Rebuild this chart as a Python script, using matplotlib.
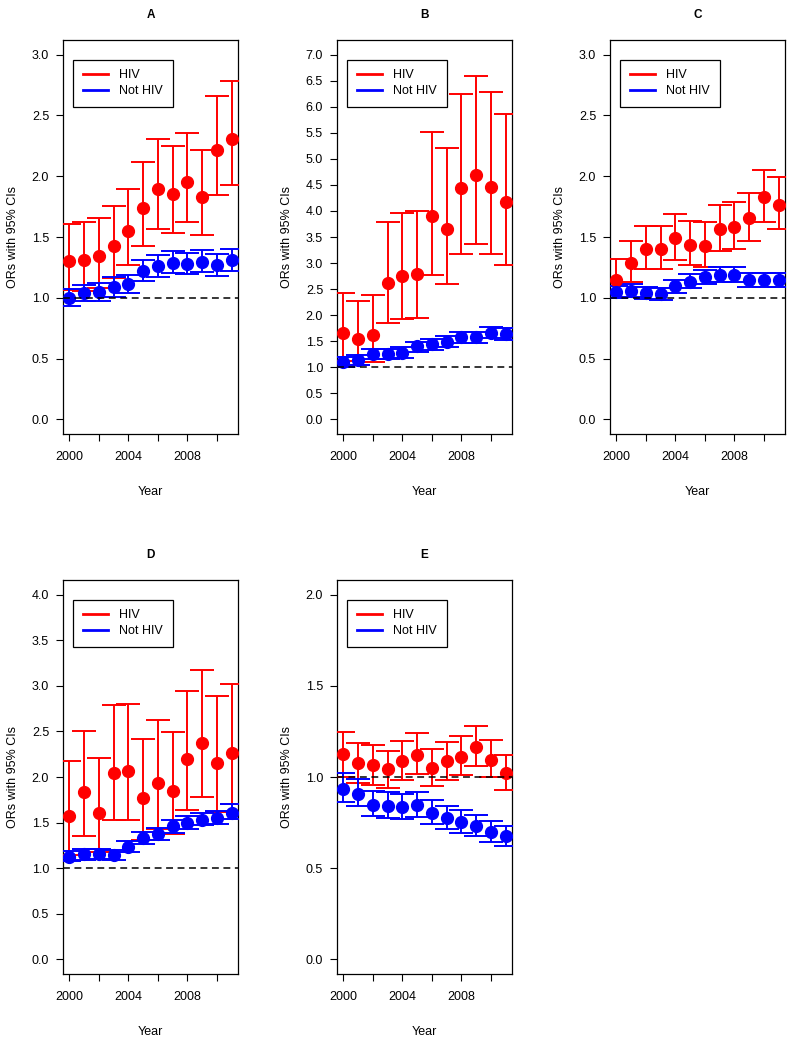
"""
plot.py - odds ratios with 95% CIs by year, HIV vs not HIV, five panels.
"""
import numpy as np
import matplotlib
matplotlib.use("Agg")
import matplotlib.pyplot as plt

plt.rcParams["font.family"] = ["Liberation Sans", "DejaVu Sans"]

years = np.arange(2000, 2012)
panel_names = ["A", "B", "C", "D", "E"]
panel_ytop = [3.0, 7.0, 3.0, 4.0, 2.0]

# ---- panel A ----
a_hiv = [1.30, 1.31, 1.345, 1.43, 1.553, 1.735, 1.897, 1.853, 1.952, 1.828, 2.212, 2.308]
a_hiv_lo = [1.065, 1.06, 1.08, 1.16, 1.27, 1.427, 1.567, 1.532, 1.62, 1.518, 1.842, 1.924]
a_hiv_hi = [1.61, 1.62, 1.655, 1.757, 1.894, 2.114, 2.308, 2.245, 2.355, 2.212, 2.663, 2.781]
a_not = [1.00, 1.037, 1.049, 1.087, 1.112, 1.224, 1.263, 1.285, 1.279, 1.293, 1.271, 1.312]
a_not_lo = [0.933, 0.977, 0.977, 1.01, 1.038, 1.139, 1.175, 1.202, 1.197, 1.211, 1.183, 1.224]
a_not_hi = [1.07, 1.106, 1.12, 1.169, 1.189, 1.307, 1.348, 1.381, 1.367, 1.389, 1.362, 1.405]

# ---- panel B ----
b_hiv = [1.653, 1.537, 1.62, 2.614, 2.755, 2.787, 3.895, 3.658, 4.44, 4.69, 4.452, 4.17]
b_hiv_lo = [1.12, 1.05, 1.10, 1.845, 1.935, 1.954, 2.774, 2.601, 3.177, 3.357, 3.177, 2.966]
b_hiv_hi = [2.42, 2.274, 2.383, 3.786, 3.959, 3.991, 5.516, 5.202, 6.25, 6.586, 6.278, 5.862]
b_not = [1.095, 1.14, 1.256, 1.256, 1.28, 1.40, 1.44, 1.486, 1.576, 1.576, 1.666, 1.634]
b_not_lo = [1.01, 1.045, 1.15, 1.15, 1.17, 1.30, 1.33, 1.38, 1.47, 1.47, 1.557, 1.525]
b_not_hi = [1.20, 1.24, 1.36, 1.35, 1.38, 1.49, 1.55, 1.60, 1.68, 1.68, 1.78, 1.75]

# ---- panel C ----
c_hiv = [1.147, 1.29, 1.403, 1.403, 1.49, 1.436, 1.427, 1.565, 1.581, 1.655, 1.825, 1.765]
c_hiv_lo = [1.00, 1.128, 1.238, 1.235, 1.312, 1.268, 1.257, 1.383, 1.40, 1.469, 1.622, 1.567]
c_hiv_hi = [1.318, 1.469, 1.592, 1.587, 1.691, 1.628, 1.62, 1.765, 1.784, 1.861, 2.053, 1.99]
c_not = [1.046, 1.06, 1.043, 1.032, 1.093, 1.134, 1.167, 1.189, 1.189, 1.147, 1.147, 1.147]
c_not_lo = [0.996, 1.005, 0.994, 0.983, 1.038, 1.079, 1.112, 1.131, 1.131, 1.092, 1.092, 1.092]
c_not_hi = [1.10, 1.114, 1.092, 1.084, 1.147, 1.194, 1.23, 1.252, 1.252, 1.208, 1.208, 1.208]

# ---- panel D ----
d_hiv = [1.573, 1.836, 1.61, 2.044, 2.066, 1.774, 1.938, 1.843, 2.193, 2.376, 2.15, 2.263]
d_hiv_lo = [1.15, 1.35, 1.179, 1.526, 1.533, 1.307, 1.434, 1.38, 1.642, 1.781, 1.617, 1.708]
d_hiv_hi = [2.175, 2.507, 2.212, 2.785, 2.796, 2.412, 2.62, 2.496, 2.938, 3.168, 2.883, 3.022]
d_not = [1.124, 1.153, 1.161, 1.142, 1.234, 1.332, 1.372, 1.46, 1.496, 1.529, 1.551, 1.61]
d_not_lo = [1.08, 1.088, 1.099, 1.088, 1.179, 1.27, 1.307, 1.387, 1.434, 1.471, 1.482, 1.544]
d_not_hi = [1.186, 1.215, 1.215, 1.197, 1.299, 1.398, 1.442, 1.533, 1.569, 1.606, 1.624, 1.70]

# ---- panel E ----
e_hiv = [1.128, 1.077, 1.064, 1.042, 1.088, 1.119, 1.049, 1.086, 1.109, 1.164, 1.091, 1.022]
e_hiv_lo = [1.0, 0.969, 0.954, 0.94, 0.985, 1.018, 0.951, 0.985, 1.013, 1.062, 1.0, 0.931]
e_hiv_hi = [1.248, 1.188, 1.175, 1.142, 1.199, 1.241, 1.155, 1.192, 1.223, 1.279, 1.204, 1.12]
e_not = [0.934, 0.907, 0.849, 0.843, 0.836, 0.845, 0.803, 0.776, 0.754, 0.732, 0.699, 0.675]
e_not_lo = [0.863, 0.839, 0.785, 0.777, 0.772, 0.781, 0.741, 0.714, 0.693, 0.675, 0.641, 0.62]
e_not_hi = [1.022, 0.991, 0.923, 0.918, 0.909, 0.918, 0.872, 0.839, 0.818, 0.794, 0.757, 0.732]

hiv_sets = [(a_hiv, a_hiv_lo, a_hiv_hi), (b_hiv, b_hiv_lo, b_hiv_hi),
            (c_hiv, c_hiv_lo, c_hiv_hi), (d_hiv, d_hiv_lo, d_hiv_hi),
            (e_hiv, e_hiv_lo, e_hiv_hi)]
not_sets = [(a_not, a_not_lo, a_not_hi), (b_not, b_not_lo, b_not_hi),
            (c_not, c_not_lo, c_not_hi), (d_not, d_not_lo, d_not_hi),
            (e_not, e_not_lo, e_not_hi)]

W, H = 789, 1038
# axes boxes in pixels: left, top, right, bottom
boxes = [(63, 40, 238, 434), (337, 40, 512, 434), (610, 40, 785, 434),
         (63, 580, 238, 974), (337, 580, 512, 974)]

fig = plt.figure(figsize=(W / 100, H / 100), dpi=100)


def draw_ci(ax, vals, color):
    mid, lo, hi = (np.asarray(v) for v in vals)
    ax.errorbar(years, mid, yerr=[mid - lo, hi - mid], fmt="o", color=color,
                ms=8.5, elinewidth=1.4, capsize=8.3, capthick=1.4, zorder=3)


for i, name in enumerate(panel_names):
    l, t, r, b = boxes[i]
    ax = fig.add_axes([l / W, 1 - b / H, (r - l) / W, (b - t) / H])
    top = panel_ytop[i]

    draw_ci(ax, hiv_sets[i], "#ff0000")
    draw_ci(ax, not_sets[i], "#0000ff")
    ax.axhline(1.0, color="black", lw=1.1, ls=(0, (4.5, 3)), zorder=4)

    ax.set_xlim(2000 - 0.44, 2011 + 0.44)
    ax.set_ylim(-0.04 * top, top * 1.04)
    ax.set_yticks(np.arange(0, top + 0.01, 0.5))
    ax.set_yticklabels([f"{v:.1f}" for v in np.arange(0, top + 0.01, 0.5)])
    ax.set_xticks(np.arange(2000, 2011, 2))
    ax.set_xticklabels(["2000", "", "2004", "", "2008", ""])
    ax.tick_params(axis="both", direction="out", length=5, width=0.8,
                   labelsize=9, color="black")
    ax.tick_params(axis="x", pad=7)
    ax.tick_params(axis="y", pad=5)
    for s in ax.spines.values():
        s.set_linewidth(0.9)

    ax.set_xlabel("Year", fontsize=9, labelpad=17)
    ax.set_ylabel("ORs with 95% CIs", fontsize=9, labelpad=9)
    ax.set_title(name, fontsize=8.5, fontweight="bold", pad=16)

    h1, = ax.plot([], [], color="#ff0000", lw=2)
    h2, = ax.plot([], [], color="#0000ff", lw=2)
    leg = ax.legend([h1, h2], ["HIV", "Not HIV"], loc="upper left",
                    bbox_to_anchor=(9.5 / (r - l), 1 - 19.5 / (b - t)),
                    borderaxespad=0, fontsize=9, handlelength=2.0,
                    handletextpad=0.9, borderpad=0.8, labelspacing=0.3,
                    fancybox=False, framealpha=1)
    leg.get_frame().set_edgecolor("black")
    leg.get_frame().set_linewidth(0.9)

fig.savefig("out.png", dpi=100)
